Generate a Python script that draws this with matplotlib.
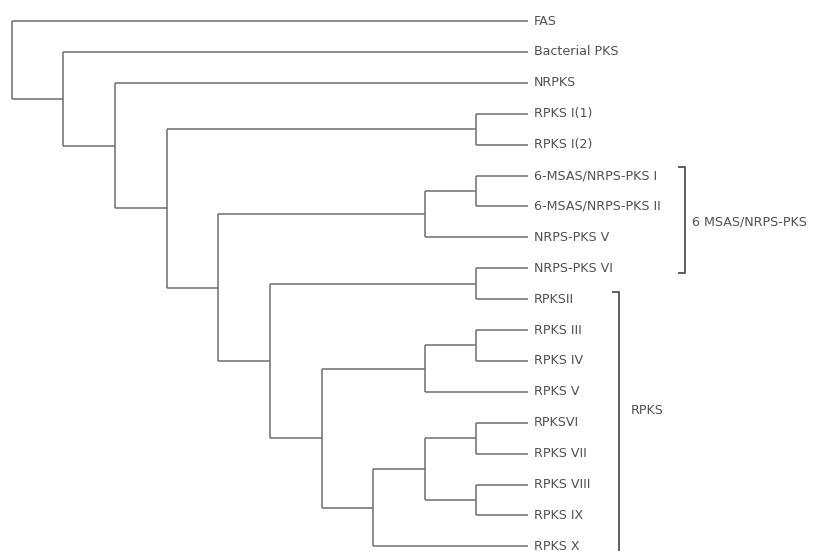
import matplotlib
matplotlib.use("Agg")
import matplotlib.pyplot as plt

# leaf labels, top to bottom
leaves = ["FAS", "Bacterial PKS", "NRPKS", "RPKS I(1)", "RPKS I(2)",
          "6-MSAS/NRPS-PKS I", "6-MSAS/NRPS-PKS II", "NRPS-PKS V",
          "NRPS-PKS VI", "RPKSII", "RPKS III", "RPKS IV", "RPKS V",
          "RPKSVI", "RPKS VII", "RPKS VIII", "RPKS IX", "RPKS X"]

# internal nodes: (depth, left child, right child); ints are leaf indices
nodes = {
    "a": (9, 5, 6),          # 6-MSAS I / II
    "b": (8, "a", 7),        # + NRPS-PKS V
    "c": (9, 3, 4),          # RPKS I(1) / I(2)
    "d": (9, 8, 9),          # NRPS-PKS VI / RPKSII
    "e": (9, 10, 11),        # RPKS III / IV
    "f": (8, "e", 12),       # + RPKS V
    "g": (9, 13, 14),        # RPKSVI / VII
    "h": (9, 15, 16),        # VIII / IX
    "i": (8, "g", "h"),
    "n7": (7, "i", 17),
    "n6": (6, "f", "n7"),
    "n5": (5, "d", "n6"),
    "n4": (4, "b", "n5"),
    "n3": (3, "c", "n4"),
    "n2": (2, 2, "n3"),
    "n1": (1, 1, "n2"),
    "root": (0, 0, "n1"),
}
leaf_depth = 10

# clade brackets: (label, first leaf, last leaf)
groups = [("6 MSAS/NRPS-PKS", 5, 8), ("RPKS", 9, 17)]

line_col = "#6e6e6e"
text_col = "#505050"

fig = plt.figure(figsize=(8.19, 5.51), dpi=100)
ax = fig.add_axes([0, 0, 1, 1])
ax.set_xlim(-0.23, 15.64)
ax.set_ylim(17.15, -0.68)
ax.axis("off")


def pos(n):
    if isinstance(n, int):
        return leaf_depth, n
    d, l, r = nodes[n]
    xl, yl = pos(l)
    xr, yr = pos(r)
    ax.plot([d, d], [yl, yr], color=line_col, lw=1.1, solid_capstyle="butt")
    ax.plot([d, xl], [yl, yl], color=line_col, lw=1.1, solid_capstyle="butt")
    ax.plot([d, xr], [yr, yr], color=line_col, lw=1.1, solid_capstyle="butt")
    return d, (yl + yr) / 2


pos("root")

for i, name in enumerate(leaves):
    ax.text(leaf_depth + 0.11, i, name, fontsize=9.1, color=text_col,
            family="DejaVu Sans", va="center", ha="left")

# brackets
bx = [13.04, 11.76]
top_pad = [0.28, 0.23]
bot_pad = [0.15, 0.6]
label_y = [6.5, 12.6]
label_dx = [0.14, 0.23]
for (label, a, b), x, tp, bp, ly, dx in zip(groups, bx, top_pad, bot_pad,
                                            label_y, label_dx):
    y0, y1 = a - tp, b + bp
    ax.plot([x - 0.13, x, x, x - 0.13], [y0, y0, y1, y1], color="#505050",
            lw=1.3, solid_capstyle="butt")
    ax.text(x + dx, ly, label, fontsize=9.1, color=text_col,
            family="DejaVu Sans", va="center", ha="left")

fig.savefig("out.png", dpi=100)
